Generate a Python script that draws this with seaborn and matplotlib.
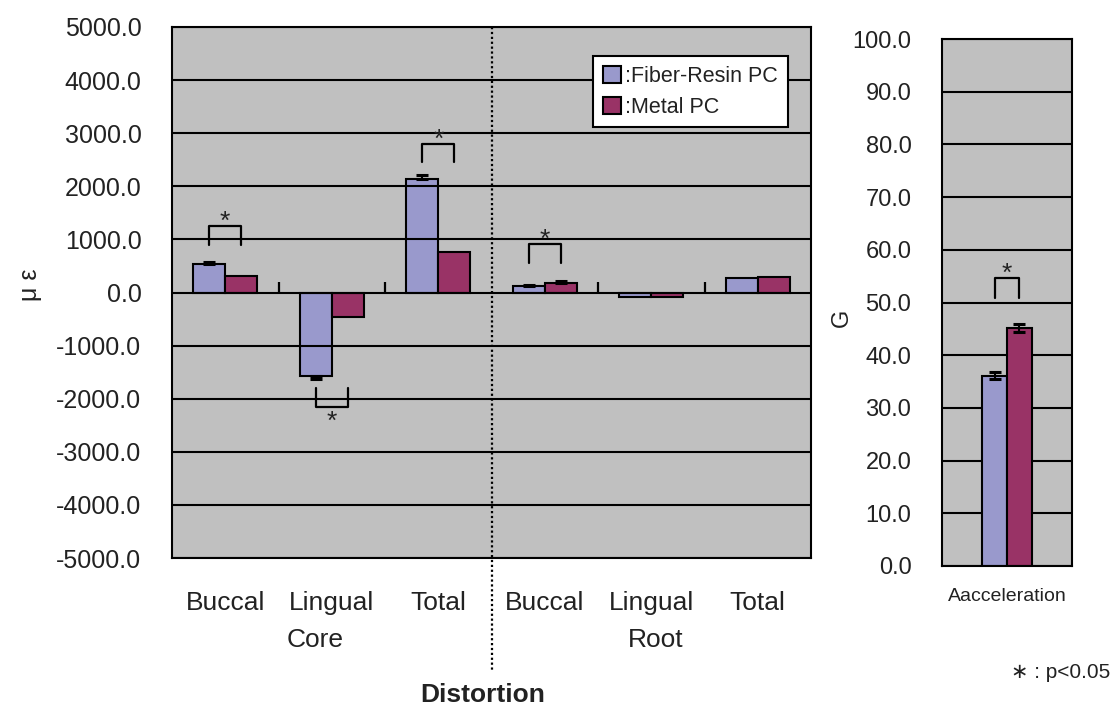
import numpy as np
import pandas as pd
import matplotlib
matplotlib.use("Agg")
import matplotlib.pyplot as plt
import matplotlib.transforms as mtransforms
from matplotlib.patches import Patch
import seaborn as sns

# ---------------- data ----------------
groups = ["Core Buccal", "Core Lingual", "Core Total", "Root Buccal", "Root Lingual", "Root Total"]
group_labels = ["Buccal", "Lingual", "Total", "Buccal", "Lingual", "Total"]
materials = ["Fiber-Resin PC", "Metal PC"]
fiber_strain = [540, -1580, 2130, 120, -90, 270]
metal_strain = [310, -460, 770, 180, -90, 290]
fiber_strain_err = [40, 40, 80, 30, 0, 0]
metal_strain_err = [0, 0, 0, 35, 0, 0]

accel_cat = ["Aacceleration"]
fiber_accel = [36.1]
metal_accel = [45.1]
fiber_accel_err = [0.7]
metal_accel_err = [0.75]

left_yticks = list(range(-5000, 5001, 1000))
right_yticks = list(range(0, 101, 10))

# significance brackets (group index, top, leg end, below?)
sig_groups = [0, 1, 2, 3]
sig_top = [1250, -2150, 2800, 920]
sig_leg = [900, -1800, 2450, 550]
sig_below = [False, True, False, False]
accel_sig_top = 54.6
accel_sig_leg = 50.9

# ---------------- style ----------------
sns.set_style("white")
plt.rcParams["font.family"] = ["Liberation Sans", "DejaVu Sans"]
FIBER = "#9999CC"
METAL = "#993366"
BG = "#C0C0C0"
TXT = "#222222"
STAR = 19

fig = plt.figure(figsize=(11.14, 7.06), dpi=100)
axL = fig.add_axes([172 / 1114, 148 / 706, 639 / 1114, 531 / 706])
axR = fig.add_axes([942 / 1114, 140 / 706, 130 / 1114, 527 / 706])

# ---------------- left chart ----------------
dfL = pd.DataFrame({
    "group": groups * 2,
    "material": [materials[0]] * len(groups) + [materials[1]] * len(groups),
    "value": fiber_strain + metal_strain,
})
sns.barplot(data=dfL, x="group", y="value", hue="material", order=groups,
            hue_order=materials, palette=[FIBER, METAL], saturation=1, width=0.6,
            edgecolor="black", linewidth=1.5, errorbar=None, ax=axL, legend=False)

bw = 0.3
for vals, errs, off in [(fiber_strain, fiber_strain_err, -bw / 2), (metal_strain, metal_strain_err, bw / 2)]:
    for i, (v, e) in enumerate(zip(vals, errs)):
        if e <= 0:
            continue
        yerr = [[0], [e]] if v >= 0 else [[e], [0]]
        axL.errorbar([i + off], [v], yerr=yerr, fmt="none", ecolor="black",
                     elinewidth=1.5, capsize=4.5, capthick=2.2, zorder=4)

axL.set_facecolor(BG)
axL.set_ylim(-5000, 5000)
axL.set_xlim(-0.5, len(groups) - 0.5)
axL.set_yticks(left_yticks)
axL.set_yticklabels([f"{t:.1f}" for t in left_yticks])
axL.set_axisbelow(False)
axL.yaxis.grid(True, color="black", linewidth=1.5)
axL.xaxis.grid(False)
axL.tick_params(axis="y", length=0, pad=22, labelsize=18, labelcolor=TXT)
axL.set_xticks(range(len(groups)))
axL.set_xticklabels(group_labels)
axL.tick_params(axis="x", length=0, pad=24, labelsize=19, labelcolor=TXT)
axL.set_xlabel("")
axL.set_ylabel("")
for s in axL.spines.values():
    s.set_color("black")
    s.set_linewidth(1.5)
    s.set_visible(True)

# small category ticks at zero line
bounds = [i + 0.5 for i in range(len(groups) - 1) if i != 2]
axL.vlines(bounds, 0, 190, color="black", linewidth=1.6, zorder=3)

# dotted separator between core and root
bt = mtransforms.blended_transform_factory(axL.transData, fig.transFigure)
axL.plot([2.5, 2.5], [679 / 706, 36 / 706], transform=bt, color="black",
         linestyle=(0, (1, 1.2)), linewidth=1.6, clip_on=False, zorder=5)

# group titles
fig.text(0.84, 1 - 640 / 706, "Core", transform=bt, ha="center", va="center", fontsize=19, color=TXT)
fig.text(4.04, 1 - 640 / 706, "Root", transform=bt, ha="center", va="center", fontsize=19, color=TXT)
fig.text(483 / 1114, 1 - 695 / 706, "Distortion", ha="center", va="center", fontsize=19,
         fontweight="bold", color=TXT)
fig.text(30 / 1114, 1 - 285 / 706, "μ ε", rotation=90, ha="center", va="center", fontsize=18, color=TXT)

# significance brackets
for g, top, leg, below in zip(sig_groups, sig_top, sig_leg, sig_below):
    x0, x1 = g - bw / 2, g + bw / 2
    axL.plot([x0, x0, x1, x1], [leg, top, top, leg], color="black", linewidth=1.6, zorder=4)
    off = -15.8 if below else -2
    axL.annotate("*", xy=(g, top), xytext=(0, off), textcoords="offset points",
                 ha="center", va="baseline", fontsize=STAR, color=TXT)

# legend
handles = [Patch(facecolor=FIBER, edgecolor="black", linewidth=1.5),
           Patch(facecolor=METAL, edgecolor="black", linewidth=1.5)]
leg = axL.legend(handles, [":" + m for m in materials], loc="upper left",
                 bbox_to_anchor=(0.659, 0.945), fontsize=15.5, frameon=True,
                 fancybox=False, framealpha=1, edgecolor="black", facecolor="white",
                 handlelength=0.85, handleheight=0.85, handletextpad=0.2,
                 borderpad=0.45, labelspacing=0.45, borderaxespad=0)
leg.get_frame().set_linewidth(1.5)
for t in leg.get_texts():
    t.set_color(TXT)

# ---------------- right chart ----------------
dfR = pd.DataFrame({
    "cat": accel_cat * 2,
    "material": materials,
    "value": fiber_accel + metal_accel,
})
sns.barplot(data=dfR, x="cat", y="value", hue="material", hue_order=materials,
            palette=[FIBER, METAL], saturation=1, width=0.38, edgecolor="black",
            linewidth=1.5, errorbar=None, ax=axR, legend=False)
bwr = 0.19
axR.errorbar([-bwr / 2], fiber_accel, yerr=fiber_accel_err, fmt="none", ecolor="black",
             elinewidth=1.5, capsize=4.5, capthick=2.2, zorder=4)
axR.errorbar([bwr / 2], metal_accel, yerr=metal_accel_err, fmt="none", ecolor="black",
             elinewidth=1.5, capsize=4.5, capthick=2.2, zorder=4)
axR.plot([-bwr / 2, -bwr / 2, bwr / 2, bwr / 2],
         [accel_sig_leg, accel_sig_top, accel_sig_top, accel_sig_leg],
         color="black", linewidth=1.6, zorder=4)
axR.annotate("*", xy=(0, accel_sig_top), xytext=(0, -2), textcoords="offset points",
             ha="center", va="baseline", fontsize=STAR, color=TXT)

axR.set_facecolor(BG)
axR.set_ylim(0, 100)
axR.set_xlim(-0.5, 0.5)
axR.set_yticks(right_yticks)
axR.set_yticklabels([f"{t:.1f}" for t in right_yticks])
axR.set_axisbelow(True)
axR.yaxis.grid(True, color="black", linewidth=1.5)
axR.xaxis.grid(False)
axR.tick_params(axis="y", length=0, pad=22, labelsize=17, labelcolor=TXT)
axR.tick_params(axis="x", length=0, pad=16, labelsize=14, labelcolor=TXT)
axR.set_xlabel("")
axR.set_ylabel("")
for s in axR.spines.values():
    s.set_color("black")
    s.set_linewidth(1.5)
    s.set_visible(True)
fig.text(842 / 1114, 1 - 318 / 706, "G", rotation=90, ha="center", va="center", fontsize=17, color=TXT)

fig.text(1110 / 1114, 1 - 673 / 706, "∗ : p<0.05", ha="right", va="center", fontsize=15, color=TXT)

fig.savefig("out.png", dpi=100, facecolor="white")
